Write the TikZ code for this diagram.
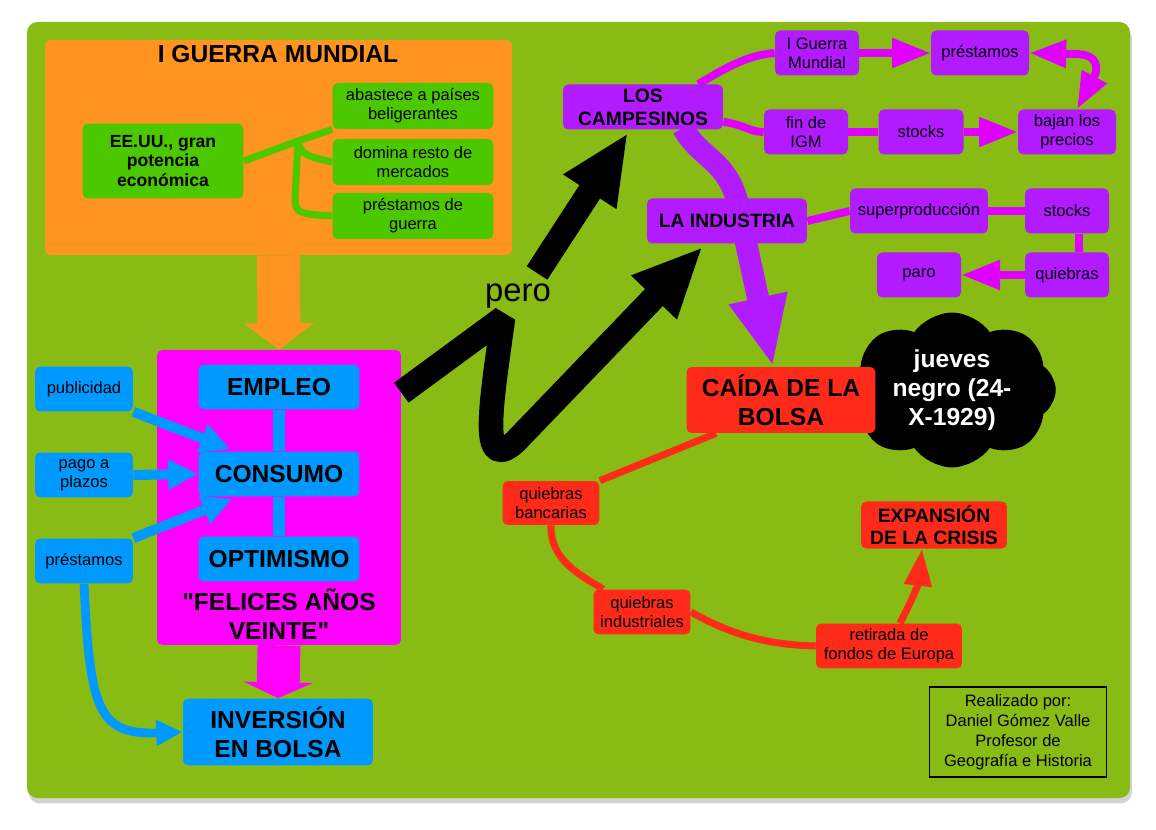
\documentclass[tikz,border=0pt]{standalone}
\usepackage{fontspec}
\setmainfont{Liberation Sans}
\usepackage{xcolor}
\usetikzlibrary{arrows.meta,positioning,calc,backgrounds,shapes.symbols,shadows}
\definecolor{bgGreen}{HTML}{88BB14}
\definecolor{warOrange}{HTML}{FF9420}
\definecolor{usGreen}{HTML}{4CC800}
\definecolor{joyPink}{HTML}{FF00FF}
\definecolor{boomBlue}{HTML}{0099FF}
\definecolor{farmPurple}{HTML}{B21AFF}
\definecolor{linkPurple}{HTML}{E000FF}
\definecolor{crashRed}{HTML}{FF2A1A}
\newcommand{\smalltxt}{\fontsize{9.4}{10.8}\selectfont}
\newcommand{\bigtxt}{\fontsize{14}{16.5}\selectfont\bfseries}
\newcommand{\midtxt}{\fontsize{11}{13}\selectfont\bfseries}
\newcommand{\eetxt}{\fontsize{10}{11.2}\selectfont\bfseries}

\begin{document}
\begin{tikzpicture}[x=0.02cm,y=-0.02cm,
  box/.style={rounded corners=3pt,align=center,inner sep=2pt},
  smallbox/.style={box,font=\smalltxt,minimum height=0.9cm},
  greenbox/.style={smallbox,fill=usGreen,minimum width=3.22cm,minimum height=0.92cm},
  bluebox/.style={box,fill=boomBlue,font=\bigtxt,minimum width=3.22cm,minimum height=0.9cm},
  sidebox/.style={smallbox,fill=boomBlue,minimum width=1.96cm},
  purplebox/.style={smallbox,fill=farmPurple,minimum width=1.68cm},
  redbox/.style={smallbox,fill=crashRed,minimum width=1.94cm},
  greenline/.style={draw=usGreen,line width=4pt},
  blueline/.style={draw=boomBlue,line width=5.7pt},
  bluearrow/.style={blueline,-{Triangle[length=17pt,width=16pt]}},
  purpline/.style={draw=linkPurple,line width=4.5pt},
  purparrow/.style={purpline,-{Triangle[length=22pt,width=16pt]}},
  redline/.style={draw=crashRed,line width=4pt},
  redarrow/.style={redline,-{Triangle[length=21pt,width=15pt]}},
  fatblack/.style={draw=black,line width=14pt,line join=bevel,-{Triangle[length=40pt,width=33pt]}},
  fatpurple/.style={draw=farmPurple,line width=12.5pt,-{Triangle[length=40pt,width=31pt]}},
  fatdown/.style={line width=24.4pt,-{Triangle[length=#1,width=39pt]}}]
\useasboundingbox (0,0) rectangle (1156,830);
% first world war
\node[font=\bigtxt] (ww1title) at (278,54) {I GUERRA MUNDIAL};
\node[greenbox,font=\eetxt,minimum height=1.5cm] (eeuu) at (163,161) {EE.UU., gran\\potencia\\económica};
\node[greenbox] (supply) at (413,106) {abastece a países\\beligerantes};
\node[greenbox] (markets) at (413,162) {domina resto de\\mercados};
\node[greenbox] (warloans) at (413,216) {préstamos de\\guerra};
\coordinate (gsplit) at (298,141);
% roaring twenties
\node[bluebox] (empleo) at (279,387) {EMPLEO};
\node[bluebox] (consumo) at (279,474) {CONSUMO};
\node[bluebox] (optimismo) at (279,559) {OPTIMISMO};
\node[font=\bigtxt,align=center] (felices) at (279,614) {\textquotedbl FELICES AÑOS\\VEINTE\textquotedbl};
\node[sidebox] (publi) at (84,389) {publicidad};
\node[sidebox] (plazos) at (84,475) {pago a\\plazos};
\node[sidebox] (credit) at (84,561) {préstamos};
\node[bluebox,minimum width=3.8cm,minimum height=1.34cm] (inversion) at (278,732) {INVERSIÓN\\EN BOLSA};
% pero
\node[font=\fontsize{18.7}{20}\selectfont] (pero) at (518,296) {pero};
\coordinate (peroA) at (537,273);
% campesinos / industria
\node[purplebox,font=\midtxt,minimum width=3.2cm] (campesinos) at (643,107) {LOS\\CAMPESINOS};
\node[purplebox] (igm) at (817,53) {I Guerra\\Mundial};
\node[purplebox,minimum width=1.96cm] (farmloans) at (980,53) {préstamos};
\node[purplebox] (endwar) at (806,132) {fin de\\IGM};
\node[purplebox,minimum width=1.7cm] (stocksA) at (921,132) {stocks};
\node[purplebox,minimum width=1.96cm] (prices) at (1067,132) {bajan los\\precios};
\node[purplebox,font=\midtxt,minimum width=3.2cm] (industria) at (727,221) {LA INDUSTRIA};
\node[purplebox,minimum width=2.76cm] (overprod) at (919,211) {superproducción};
\node[purplebox] (stocksB) at (1067,211) {stocks};
\node[purplebox] (paro) at (919,275) {paro};
\node[purplebox] (bankrupt) at (1067,275) {quiebras};
% crash
\node[cloud,cloud puffs=8,cloud puff arc=110,aspect=1.35,fill=black,text=white,font=\bigtxt,align=center,inner sep=0pt,minimum width=4.15cm,minimum height=3.1cm] (jueves) at (952,390) {jueves\\negro (24-\\X-1929)};
\node[redbox,font=\bigtxt,minimum width=3.78cm,minimum height=1.32cm] (caida) at (781,400) {CAÍDA DE LA\\BOLSA};
\node[redbox,minimum height=0.88cm] (banks) at (551,503) {quiebras\\bancarias};
\node[redbox] (factories) at (642,612) {quiebras\\industriales};
\node[redbox,minimum width=2.92cm] (europe) at (889,646) {retirada de\\fondos de Europa};
\node[redbox,font=\midtxt,minimum width=2.92cm,minimum height=0.92cm] (expansion) at (934,525) {EXPANSIÓN\\DE LA CRISIS};
\node[draw=black,line width=0.8pt,align=center,font=\fontsize{9.4}{11.3}\selectfont,minimum width=3.54cm,minimum height=1.8cm] (author) at (1018,732) {Realizado por:\\Daniel Gómez Valle\\Profesor de\\Geografía e Historia};
\begin{scope}[on background layer]
\fill[bgGreen,rounded corners=6pt,drop shadow={opacity=0.35,shadow xshift=1pt,shadow yshift=-3pt}] (27,22) rectangle (1130,798);
\node[fill=warOrange,rounded corners=3pt,minimum width=9.34cm,minimum height=4.3cm] (ww1) at (278.5,147.5) {};
\node[fill=joyPink,rounded corners=3pt,minimum width=4.88cm,minimum height=5.9cm] (roaring) at (279,497.5) {};
% green links
\draw[greenline] (eeuu.east) -- (gsplit) -- (supply.south west);
\draw[greenline] (gsplit) .. controls (300,155) and (310,157) .. (markets.west);
\draw[greenline] (gsplit) -- (295,200) .. controls (295,215) and (305,214) .. (warloans.west);
% fat arrows
\draw[fatdown=15pt,warOrange] (ww1.south) -- (roaring.north);
\draw[fatdown=9pt,joyPink] (roaring.south) -- (inversion.north);
% blue links
\draw[blueline,line width=7pt] (empleo) -- (consumo);
\draw[blueline,line width=7pt] (consumo) -- (optimismo);
\draw[bluearrow] (publi.south east) -- ($(consumo.north west)+(32,-2)$);
\draw[bluearrow] (plazos.east) -- (consumo.west);
\draw[bluearrow] (credit.north east) -- ($(consumo.south west)+(34,2)$);
\draw[blueline,line width=5pt,-{Triangle[length=15pt,width=14pt]}] (credit.south) .. controls (90,710) and (98,735) .. (inversion.west);
% pero
\draw[fatblack] (peroA) -- ($(campesinos.south)+(-15,3)$);
\draw[fatblack] ($(roaring.north east)+(0,43)$) -- (503,318) .. controls (492,400) and (478,475) .. (515,442) -- ($(industria.south west)+(56,3)$);
% purple links
\draw[fatpurple] ($(campesinos.south)+(40,-2)$) .. controls (700,160) and (732,160) .. (740,215) -- ($(caida.north)+(-8,0)$);
\draw[purpline] ($(campesinos.north east)+(-25,0)$) .. controls (730,65) and (750,55) .. (igm.west);
\draw[purparrow] (igm.east) -- (farmloans.west);
\draw[purpline,{Triangle[length=21pt,width=15pt]}-{Triangle[length=21pt,width=15pt]}] (farmloans.east) -- (1075,54) .. controls (1100,54) and (1098,70) .. ($(prices.north)+(10,0)$);
\draw[purpline] ($(campesinos.south east)+(0,-8)$) .. controls (745,125) and (750,132) .. (endwar.west);
\draw[purpline] (endwar) -- (stocksA);
\draw[purparrow] (stocksA.east) -- (prices.west);
\draw[purpline] (industria.east) -- (overprod.west);
\draw[purpline] (overprod) -- (stocksB);
\draw[purpline] ($(stocksB.south)+(12,0)$) -- ($(bankrupt.north)+(12,0)$);
\draw[purparrow] (bankrupt.west) -- (paro.east);
% red links
\draw[redline] ($(caida.south west)+(30,0)$) -- (banks.north east);
\draw[redline] (banks.south) .. controls (550,560) and (580,575) .. ($(factories.north west)+(10,0)$);
\draw[redline] (factories.east) .. controls (740,640) and (780,645) .. (europe.west);
\draw[redarrow] ($(europe.north)+(11,0)$) .. controls (912,600) and (918,585) .. ($(expansion.south)+(-12,0)$);
\end{scope}
\end{tikzpicture}
\end{document}
